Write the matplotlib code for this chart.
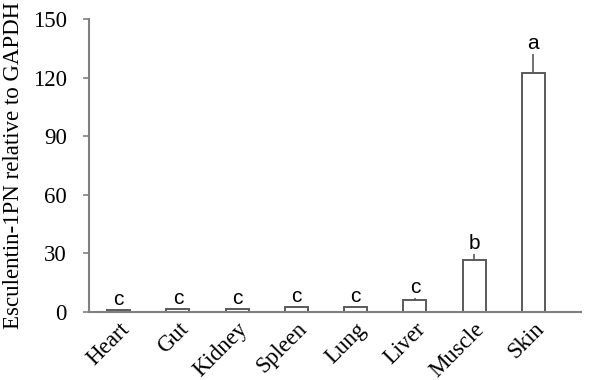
import matplotlib
matplotlib.use("Agg")
import matplotlib.pyplot as plt
import numpy as np

tissues = ["Heart", "Gut", "Kidney", "Spleen", "Lung", "Liver", "Muscle", "Skin"]
values = [0.9, 1.4, 1.4, 2.2, 2.2, 6.1, 26.5, 122.5]
errors = [0.3, 0.3, 0.3, 0.5, 0.4, 0.9, 3.2, 9.8]
letters = ["c", "c", "c", "c", "c", "c", "b", "a"]
yticks = [0, 30, 60, 90, 120, 150]

fig = plt.figure(figsize=(5.94, 3.80), dpi=100)
ax = fig.add_axes([0.1498, 0.18, 0.828, 0.77])

x = np.arange(len(tissues))
edge = "#5a5a5a"
ax.bar(x, values, width=0.39, color="white", edgecolor=edge, linewidth=1.4, zorder=2)
ax.errorbar(x, values, yerr=[np.zeros(len(errors)), errors], fmt="none",
            ecolor=edge, elinewidth=1.2, capsize=0, zorder=1)
for xi, v, e, l in zip(x, values, errors, letters):
    ax.annotate(l, (xi, v + e), xytext=(0, 0.5), textcoords="offset points",
                ha="center", va="bottom", fontsize=15, family="Liberation Sans")

ax.set_xlim(-0.5, 7.8)
ax.set_ylim(0, 150)
ax.set_yticks(yticks)
ax.set_yticklabels([str(t) for t in yticks], family="Liberation Serif", fontsize=16.5)
ax.set_xticks(x)
ax.set_xticklabels(tissues, rotation=45, ha="right", rotation_mode="anchor",
                   family="Liberation Serif", fontsize=16.5)
ax.tick_params(axis="x", length=0, pad=5)
ax.tick_params(axis="y", length=4, width=1.2, color="#808080", pad=12)
ax.set_ylabel("Esculentin-1PN relative to GAPDH", family="Liberation Serif", fontsize=16.5, labelpad=6)
for s in ["top", "right"]:
    ax.spines[s].set_visible(False)
for s in ["left", "bottom"]:
    ax.spines[s].set_color("#808080")
    ax.spines[s].set_linewidth(1.5)

fig.savefig("out.png", dpi=100)
